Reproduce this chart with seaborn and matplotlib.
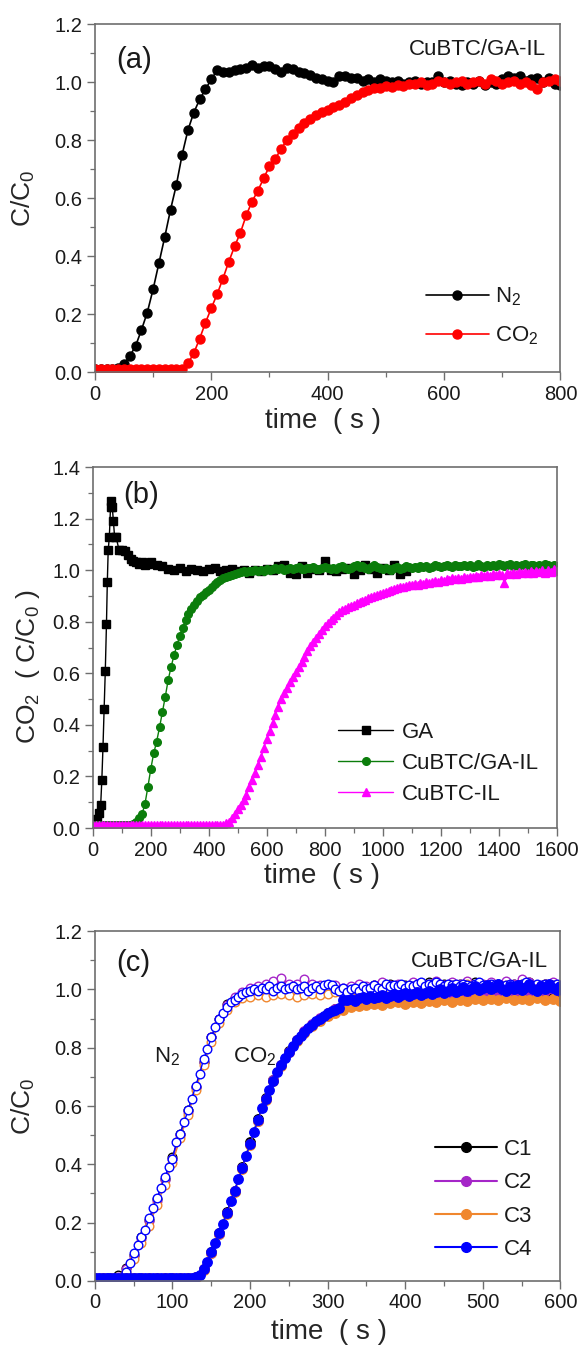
import matplotlib
matplotlib.use("Agg")
import matplotlib.pyplot as plt
import seaborn as sns
from matplotlib.lines import Line2D
from matplotlib.ticker import MultipleLocator

# ---------------- Datos panel (a): curvas de ruptura CuBTC/GA-IL ----------------
tiempoA = list(range(0, 810, 10))
n2A = [0.010, 0.010, 0.010, 0.012, 0.015, 0.028, 0.055, 0.090, 0.145, 0.205,
       0.285, 0.375, 0.465, 0.560, 0.645, 0.750, 0.835, 0.895, 0.940, 0.975,
       1.010, 1.040, 1.035, 1.035, 1.040, 1.045, 1.050, 1.060, 1.050, 1.055,
       1.055, 1.045, 1.035, 1.050, 1.045, 1.035, 1.030, 1.025, 1.015, 1.010,
       1.005, 1.000, 1.020, 1.020, 1.015, 1.015, 1.005, 1.010, 1.000, 1.010,
       1.005, 1.000, 1.005, 0.995, 1.000, 1.005, 0.995, 1.000, 1.000, 1.020,
       1.000, 1.005, 0.995, 0.990, 1.000, 0.995, 1.005, 0.990, 1.000, 0.995,
       1.010, 1.020, 1.015, 1.020, 1.005, 1.010, 1.015, 1.000, 1.015, 0.995,
       0.990]
co2A = [0.010, 0.010, 0.010, 0.010, 0.010, 0.010, 0.010, 0.010, 0.010, 0.010,
        0.010, 0.010, 0.010, 0.010, 0.010, 0.010, 0.030, 0.065, 0.115, 0.170,
        0.220, 0.268, 0.322, 0.380, 0.433, 0.480, 0.540, 0.588, 0.625, 0.668,
        0.710, 0.735, 0.770, 0.800, 0.820, 0.840, 0.860, 0.873, 0.885, 0.896,
        0.905, 0.913, 0.922, 0.932, 0.945, 0.955, 0.965, 0.973, 0.978, 0.980,
        0.985, 0.982, 0.990, 0.985, 0.992, 0.995, 1.000, 0.990, 0.995, 1.005,
        1.000, 0.995, 1.000, 1.005, 0.995, 1.000, 1.005, 0.995, 1.010, 1.005,
        0.995, 1.000, 1.005, 0.995, 1.000, 0.990, 0.975, 1.000, 1.005, 1.010,
        1.005]

# ---------------- Datos panel (b): CO2 en distintos materiales ----------------
tiempoGA = [3, 10, 16, 22, 27, 31, 35, 39, 43, 47, 50, 53, 57, 61, 64, 67, 71, 75,
            80, 90, 100, 110, 120, 130, 140, 150, 160, 170, 180, 190, 200,
            220, 240, 260, 280, 300, 320, 340, 360, 380, 400,
            420, 440, 460, 480, 500, 520, 540, 560, 580, 600,
            620, 640, 660, 680, 700, 720, 740, 760, 780, 800,
            820, 840, 860, 880, 900, 920, 940, 960, 980, 1000,
            1020, 1040, 1060, 1080]
ga = [0.020, 0.030, 0.035, 0.060, 0.088, 0.185, 0.314, 0.463, 0.610, 0.790,
      0.955, 1.077, 1.130, 1.245, 1.270, 1.245, 1.190, 1.130, 1.130, 1.080,
      1.080, 1.075, 1.060, 1.045, 1.035, 1.030, 1.025, 1.030, 1.020, 1.025,
      1.030,
      1.020, 1.015, 1.005, 1.000, 1.010, 0.995, 1.005, 1.000, 0.995, 1.005,
      1.010, 0.995, 1.000, 1.005, 0.995, 1.000, 0.990, 1.000, 0.995, 1.005,
      1.000, 1.015, 1.020, 0.990, 0.985, 1.015, 0.990, 1.005, 1.000, 1.035,
      1.000, 0.995, 1.005, 1.010, 0.985, 1.000, 1.020, 1.005, 0.990, 1.010,
      1.000, 1.020, 0.985, 0.995]

tiempoB = list(range(0, 1610, 10))
cubtcGaIl = [0.010] * 14 + [
    0.015, 0.025, 0.040, 0.055, 0.095, 0.160, 0.230, 0.290, 0.335, 0.390,
    0.450, 0.510, 0.575, 0.625, 0.670, 0.710, 0.745, 0.775, 0.805, 0.830,
    0.850, 0.865, 0.880, 0.895, 0.905, 0.915, 0.925, 0.935, 0.945, 0.955,
    0.962, 0.968, 0.975, 0.978, 0.982, 0.985, 0.990, 0.992, 0.995,
    0.993, 0.998, 0.995, 1.000, 0.997, 1.002, 0.998, 1.005, 1.000, 1.003,
    1.010, 1.005, 1.008, 1.002, 1.006, 1.010, 1.004, 1.008, 1.012, 1.006,
    1.004, 1.010, 1.008, 1.012, 1.006, 1.003, 1.009, 1.014, 1.008, 1.005,
    1.010, 1.004, 1.012, 1.015, 1.008, 1.003, 1.010, 1.016, 1.020, 1.012,
    1.018, 1.010, 1.006, 1.014, 1.020, 1.012, 1.008, 1.004, 1.010, 1.006,
    1.002, 1.008, 1.012, 1.006, 1.010, 1.016, 1.012, 1.008, 1.014, 1.010,
    1.016, 1.012, 1.018, 1.010, 1.014, 1.020, 1.016, 1.012, 1.018, 1.022,
    1.016, 1.012, 1.020, 1.015, 1.018, 1.022, 1.016, 1.020, 1.014, 1.018,
    1.024, 1.018, 1.014, 1.020, 1.016, 1.022, 1.018, 1.024, 1.020, 1.016,
    1.020, 1.024, 1.018, 1.022, 1.016, 1.020, 1.024, 1.018, 1.022, 1.020,
    1.016, 1.022, 1.018, 1.024, 1.020, 1.016, 1.022, 1.018]
cubtcIl = [0.010] * 45 + [
    0.012, 0.018, 0.025, 0.040, 0.055, 0.072, 0.090, 0.110, 0.130, 0.158,
    0.185, 0.213, 0.243, 0.275, 0.310, 0.346, 0.378, 0.408, 0.440, 0.470,
    0.500, 0.525, 0.545, 0.565, 0.585, 0.605, 0.625, 0.643, 0.663, 0.685,
    0.705, 0.722, 0.737, 0.752, 0.768, 0.783, 0.796, 0.806, 0.816, 0.826,
    0.836, 0.845, 0.851, 0.856, 0.862, 0.866, 0.871, 0.876, 0.881, 0.886,
    0.891, 0.896, 0.900, 0.905, 0.909, 0.913,
    0.917, 0.921, 0.924, 0.927, 0.930, 0.933, 0.936, 0.939, 0.941, 0.943,
    0.946, 0.944, 0.950, 0.948, 0.953, 0.951, 0.956, 0.958, 0.955, 0.962,
    0.960, 0.965, 0.962, 0.968, 0.965, 0.970, 0.967, 0.972, 0.969, 0.975,
    0.972, 0.978, 0.974, 0.980, 0.976, 0.982, 0.978, 0.984, 0.980, 0.986,
    0.982, 0.950, 0.988, 0.984, 0.990, 0.986, 0.992, 0.988, 0.994, 0.990,
    0.996, 0.988, 0.998, 0.992, 1.002, 0.990, 1.000, 0.994, 1.004, 0.996]

# ---------------- Datos panel (c): ciclos C1-C4 ----------------
tiempoC5 = list(range(0, 605, 5))
tiempoC10 = list(range(0, 610, 10))

n2C4 = [0.010] * 7 + [
    0.015, 0.030, 0.060, 0.095, 0.125, 0.150, 0.175, 0.215, 0.250, 0.285,
    0.320, 0.355, 0.390, 0.420, 0.475, 0.505, 0.545, 0.585, 0.625, 0.670,
    0.710, 0.760, 0.795, 0.835, 0.870, 0.900, 0.920, 0.940, 0.955, 0.965,
    0.975, 0.985, 0.990, 0.995,
    1.000, 0.995, 1.005, 1.000, 1.010, 0.995, 1.005, 1.010, 1.000, 1.005,
    1.010, 1.000, 1.005, 1.010, 0.995, 1.005, 1.010, 1.000, 1.015, 1.020,
    1.015, 1.000, 0.995, 1.005, 0.990, 1.000, 1.005, 0.995, 1.010, 1.000,
    1.005, 1.015, 1.005, 1.000, 1.020, 1.010, 1.015, 1.010, 1.020, 1.005,
    1.015, 1.010, 1.020, 1.025, 1.010, 1.020, 1.015, 1.025, 1.020, 1.010,
    1.020, 1.015, 1.020, 1.010, 1.020, 1.015, 1.010, 1.020, 1.025, 1.015,
    1.010, 1.020, 1.015, 1.020, 1.010, 1.015, 1.020, 1.010, 1.015, 1.020,
    1.025, 1.015, 1.010, 1.020, 1.015, 1.020, 1.010, 1.015, 1.020, 1.010]
co2C4 = [0.010] * 26 + [
    0.012, 0.022, 0.040, 0.065, 0.098, 0.130, 0.163, 0.195, 0.233, 0.273,
    0.308, 0.348, 0.388, 0.430, 0.470, 0.510, 0.551, 0.592, 0.625, 0.654,
    0.687, 0.715, 0.741, 0.764, 0.786, 0.807, 0.826, 0.840, 0.854, 0.866,
    0.877, 0.890, 0.900, 0.910, 0.918, 0.925, 0.930, 0.935, 0.962,
    0.965, 0.968, 0.960, 0.972, 0.975, 0.968, 0.978, 0.970, 0.975, 0.980,
    0.972, 0.978, 0.985, 0.975, 0.982, 0.988, 0.978, 0.985, 0.992, 0.982,
    0.988, 0.995, 0.985, 0.992, 1.000, 0.988, 0.995, 1.005, 0.992, 0.998,
    1.008, 0.995, 1.002, 1.012, 0.998, 1.005, 1.015, 1.000, 1.008, 1.018,
    1.002, 0.995, 1.010, 1.000, 1.015, 0.998, 1.008, 1.018, 1.002, 0.995,
    1.012, 1.000, 1.018, 1.005, 0.998, 1.010]

n2C1 = [0.010, 0.010, 0.010,
        0.020, 0.045, 0.090, 0.150, 0.210, 0.280, 0.350, 0.425, 0.505, 0.585,
        0.665, 0.750, 0.835, 0.900, 0.950, 0.970, 0.985, 0.995, 1.000, 1.010,
        1.005, 1.020, 1.010, 1.005, 1.015, 1.005, 1.010, 1.000,
        1.005, 0.995, 1.005, 1.010, 1.000, 1.015, 1.005, 1.020, 1.010, 1.015,
        1.020, 1.010, 1.025, 1.015, 1.020, 1.010, 1.020, 1.015, 1.025, 1.015,
        1.020, 1.010, 1.015, 1.020, 1.015, 1.025, 1.010, 1.020, 1.015, 1.010]
n2C2 = [0.010, 0.010, 0.010,
        0.015, 0.040, 0.085, 0.145, 0.205, 0.275, 0.345, 0.420, 0.500, 0.580,
        0.665, 0.750, 0.835, 0.900, 0.945, 0.975, 0.990, 1.005, 1.010, 1.020,
        1.030, 1.040, 1.020, 1.020, 1.035, 1.020, 1.015, 1.010,
        1.015, 1.005, 1.010, 1.020, 1.010, 1.015, 1.025, 1.015, 1.020, 1.010,
        1.025, 1.015, 1.020, 1.030, 1.015, 1.025, 1.020, 1.030, 1.015, 1.020,
        1.025, 1.015, 1.030, 1.020, 1.035, 1.025, 1.015, 1.020, 1.025, 1.015]
n2C3 = [0.010, 0.010, 0.010,
        0.010, 0.030, 0.075, 0.130, 0.190, 0.260, 0.330, 0.405, 0.490, 0.570,
        0.655, 0.740, 0.820, 0.885, 0.930, 0.955, 0.970, 0.975, 0.980, 0.975,
        0.980, 0.985, 0.980, 0.975, 0.980, 0.985, 0.980, 0.985,
        0.990, 0.985, 0.995, 0.990, 1.000, 0.995, 1.005, 1.000, 1.010, 1.005,
        1.010, 1.005, 1.015, 1.010, 1.005, 1.015, 1.010, 1.020, 1.010, 1.015,
        1.010, 1.020, 1.015, 1.010, 1.020, 1.015, 1.010, 1.020, 1.015, 1.010]

co2C1 = [0.010] * 13 + [
    0.012, 0.042, 0.100, 0.165, 0.235, 0.310, 0.392, 0.475, 0.555, 0.628,
    0.690, 0.742, 0.788, 0.826, 0.855, 0.878, 0.900, 0.918, 0.932, 0.942,
    0.950, 0.955, 0.958,
    0.962, 0.958, 0.965, 0.968, 0.963, 0.970, 0.966, 0.972, 0.968, 0.975,
    0.970, 0.976, 0.972, 0.978, 0.974, 0.980, 0.975, 0.982, 0.976, 0.980,
    0.976, 0.982, 0.978, 0.984, 0.978]
co2C2 = [0.010] * 13 + [
    0.013, 0.040, 0.097, 0.162, 0.232, 0.307, 0.388, 0.470, 0.550, 0.624,
    0.688, 0.740, 0.786, 0.825, 0.856, 0.880, 0.902, 0.920, 0.933, 0.945,
    0.955, 0.962, 0.966,
    0.970, 0.966, 0.974, 0.978, 0.972, 0.980, 0.976, 0.984, 0.978, 0.986,
    0.982, 0.988, 0.984, 0.992, 0.986, 0.994, 0.988, 0.996, 0.990, 0.998,
    0.992, 1.000, 0.994, 1.002, 0.996]
co2C3 = [0.010] * 13 + [
    0.010, 0.038, 0.095, 0.160, 0.230, 0.305, 0.385, 0.468, 0.548, 0.622,
    0.686, 0.738, 0.784, 0.822, 0.852, 0.874, 0.893, 0.908, 0.920, 0.930,
    0.938, 0.944, 0.948,
    0.950, 0.946, 0.953, 0.956, 0.950, 0.958, 0.954, 0.960, 0.955, 0.962,
    0.958, 0.964, 0.960, 0.966, 0.962, 0.968, 0.962, 0.970, 0.964, 0.968,
    0.962, 0.970, 0.964, 0.968, 0.960]

ciclos = ['C1', 'C2', 'C3', 'C4']
coloresCiclo = ['#000000', '#a526c8', '#f0872e', '#0000ff']

sns.set_theme(style="ticks")
plt.rcParams['font.family'] = ['Liberation Sans', 'DejaVu Sans']
plt.rcParams['mathtext.default'] = 'regular'
plt.rcParams['text.color'] = '#1a1a1a'

GRIS = '#6e6e6e'


# Nombre Funcion: estiloEjes
# Descripcion: limites, ticks y bordes comunes a los tres paneles
def estiloEjes(ax, xmax, xmayor, xmenor, ymax):
    ax.set_xlim(0, xmax)
    ax.set_ylim(0, ymax)
    ax.xaxis.set_major_locator(MultipleLocator(xmayor))
    ax.xaxis.set_minor_locator(MultipleLocator(xmenor))
    ax.yaxis.set_major_locator(MultipleLocator(0.2))
    ax.yaxis.set_minor_locator(MultipleLocator(0.1))
    ax.tick_params(which='both', direction='out', top=False, right=False,
                   color=GRIS, labelcolor='#1a1a1a', labelsize=14.5, pad=3)
    ax.tick_params(which='major', length=6, width=1.0)
    ax.tick_params(which='minor', length=3.5, width=0.9)
    for lado in ax.spines.values():
        lado.set_color(GRIS)
        lado.set_linewidth(1.2)


# Nombre Funcion: curva
# Descripcion: dibuja una serie con linea y marcadores usando seaborn
def curva(ax, x, y, color, marcador, tam, relleno=None, etiqueta=None, lw=1.2):
    sns.lineplot(x=x, y=y, ax=ax, color=color, marker=marcador, markersize=tam,
                 markeredgecolor=color, markeredgewidth=1.0,
                 markerfacecolor=relleno if relleno else color,
                 linewidth=lw, estimator=None, sort=False, label=etiqueta,
                 legend=False)


fig = plt.figure(figsize=(5.82, 13.46), dpi=100)
axA = fig.add_axes([0.163, 0.7236, 0.800, 0.2585])
axB = fig.add_axes([0.1595, 0.3848, 0.797, 0.2682])
axC = fig.add_axes([0.163, 0.0483, 0.800, 0.2600])

# ----- panel (a) -----
curva(axA, tiempoA, n2A, 'black', 'o', 6.5, etiqueta='N$_2$')
curva(axA, tiempoA, co2A, '#ff0000', 'o', 6.5, etiqueta='CO$_2$')
estiloEjes(axA, 800, 200, 100, 1.2)
axA.legend(loc='center left', bbox_to_anchor=(0.712, 0.16), frameon=False,
           fontsize=16, handlelength=2.8, handletextpad=0.3, labelspacing=0.75,
           borderpad=0, borderaxespad=0)
axA.text(0.047, 0.897, '(a)', transform=axA.transAxes, fontsize=21,
         ha='left', va='center')
axA.text(0.969, 0.928, 'CuBTC/GA-IL', transform=axA.transAxes, fontsize=16,
         ha='right', va='center')
axA.set_xlabel('time  ( s )', fontsize=20)
axA.xaxis.set_label_coords(0.489, -0.103)
axA.set_ylabel('C/C$_0$', fontsize=19)
axA.yaxis.set_label_coords(-0.125, 0.5)

# ----- panel (b) -----
curva(axB, tiempoGA, ga, 'black', 's', 6.0, etiqueta='GA', lw=1.0)
curva(axB, tiempoB, cubtcGaIl, '#0b7d0b', 'o', 5.5, etiqueta='CuBTC/GA-IL', lw=1.0)
curva(axB, tiempoB, cubtcIl, '#ff00ff', '^', 6.0, etiqueta='CuBTC-IL', lw=1.0)
estiloEjes(axB, 1600, 200, 100, 1.4)
axB.legend(loc='center left', bbox_to_anchor=(0.528, 0.18), frameon=False,
           fontsize=16, handlelength=2.5, handletextpad=0.4, labelspacing=0.45,
           borderpad=0, borderaxespad=0)
axB.text(0.065, 0.922, '(b)', transform=axB.transAxes, fontsize=21,
         ha='left', va='center')
axB.set_xlabel('time  ( s )', fontsize=20)
axB.xaxis.set_label_coords(0.494, -0.098)
axB.set_ylabel('CO$_2$  ( C/C$_0$ )', fontsize=19)
axB.yaxis.set_label_coords(-0.11, 0.446)

# ----- panel (c) -----
n2Ciclos = [n2C1, n2C2, n2C3, n2C4]
co2Ciclos = [co2C1, co2C2, co2C3, co2C4]
tiemposCiclo = [tiempoC10, tiempoC10, tiempoC10, tiempoC5]
for tt, yy, col in zip(tiemposCiclo, n2Ciclos, coloresCiclo):
    curva(axC, tt, yy, col, 'o', 6.2, relleno='white', lw=1.0)
for tt, yy, col in zip(tiemposCiclo, co2Ciclos, coloresCiclo):
    curva(axC, tt, yy, col, 'o', 6.8, lw=1.0)
estiloEjes(axC, 600, 100, 50, 1.2)
manejadores = [Line2D([], [], color=c, marker='o', markersize=7, linewidth=1.5)
               for c in coloresCiclo]
axC.legend(manejadores, ciclos, loc='center left', bbox_to_anchor=(0.73, 0.233),
           frameon=False, fontsize=16, handlelength=2.8, handletextpad=0.3,
           labelspacing=0.55, borderpad=0, borderaxespad=0)
axC.text(0.047, 0.909, '(c)', transform=axC.transAxes, fontsize=21,
         ha='left', va='center')
axC.text(0.974, 0.912, 'CuBTC/GA-IL', transform=axC.transAxes, fontsize=16,
         ha='right', va='center')
axC.text(0.127, 0.641, 'N$_2$', transform=axC.transAxes, fontsize=16,
         ha='left', va='center')
axC.text(0.297, 0.641, 'CO$_2$', transform=axC.transAxes, fontsize=16,
         ha='left', va='center')
axC.set_xlabel('time  ( s )', fontsize=20)
axC.xaxis.set_label_coords(0.502, -0.11)
axC.set_ylabel('C/C$_0$', fontsize=19)
axC.yaxis.set_label_coords(-0.125, 0.5)

fig.savefig('out.png', dpi=100)
